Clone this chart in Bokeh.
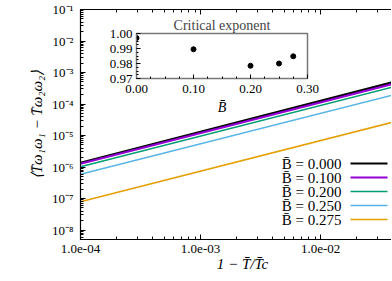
from bokeh.plotting import figure
from bokeh.layouts import column
from bokeh.models import (Range1d, LogAxis, CustomJSTickFormatter, FixedTicker, Label, Arrow)
from bokeh.embed import file_html
from bokeh.resources import INLINE

# ---- data ----
x_ends = [1e-4, 5e-2]
b_labels = ["B̄ = 0.000", "B̄ = 0.100", "B̄ = 0.200", "B̄ = 0.250", "B̄ = 0.275"]
y_b0000 = [1.37e-6, 6.1e-4]
y_b0100 = [1.27e-6, 5.4e-4]
y_b0200 = [1.02e-6, 4.3e-4]
y_b0250 = [5.9e-7, 2.4e-4]
y_b0275 = [7.9e-8, 3.3e-5]
series = [y_b0000, y_b0100, y_b0200, y_b0250, y_b0275]
colors = ["#000000", "#9400d3", "#009e73", "#56b4e9", "#e69f00"]
widths = [2.2, 2.2, 1.5, 1.5, 1.5]

inset_B = [0.0, 0.1, 0.2, 0.25, 0.275]
inset_exp = [0.997, 0.9895, 0.9785, 0.980, 0.9848]

x_ticks = [1e-4, 1e-3, 1e-2]
y_ticks = [1e-8, 1e-7, 1e-6, 1e-5, 1e-4, 1e-3, 1e-2, 1e-1]

FONT = "Liberation Serif"

p = figure(frame_width=324, frame_height=230, x_axis_type="log", y_axis_type="log",
           x_range=Range1d(1e-4, 5e-2), y_range=Range1d(5e-9, 1e-1),
           output_backend="svg", toolbar_location=None,
           min_border_left=67, min_border_right=0, min_border_top=9, min_border_bottom=42)
p.grid.visible = False
p.outline_line_color = "black"
p.outline_line_width = 1.2
p.background_fill_color = "white"

for ys, c, w in zip(series, colors, widths):
    p.line(x_ends, ys, line_color=c, line_width=w)

x_fmt = CustomJSTickFormatter(code="""
const e = Math.round(Math.log10(tick));
const m = tick / Math.pow(10, e);
const s = String(Math.abs(e)).padStart(2, '0');
return m.toFixed(1) + 'e' + (e < 0 ? '-' : '+') + s;
""")
y_fmt = CustomJSTickFormatter(code="""
const sup = {'-':'\u207b','0':'\u2070','1':'\u00b9','2':'\u00b2','3':'\u00b3','4':'\u2074','5':'\u2075','6':'\u2076','7':'\u2077','8':'\u2078','9':'\u2079'};
const e = String(Math.round(Math.log10(tick)));
return '10' + e.split('').map(c => sup[c]).join('');
""")
blank_fmt = CustomJSTickFormatter(code="return '';")

def style_axis(ax):
    ax.major_tick_in = 5
    ax.major_tick_out = 0
    ax.minor_tick_in = 3
    ax.minor_tick_out = 0
    ax.axis_line_color = "black"
    ax.major_tick_line_color = "black"
    ax.minor_tick_line_color = "black"
    ax.major_label_text_font = FONT
    ax.major_label_text_font_size = "13px"
    ax.major_label_text_color = "black"
    ax.axis_label_text_font = FONT
    ax.axis_label_text_font_size = "15px"
    ax.axis_label_text_font_style = "italic"
    ax.axis_label_text_color = "black"

x_minor = [v * k for v in [1e-4, 1e-3, 1e-2] for k in range(2, 10) if v * k <= 5e-2]
y_minor = [v * k for v in [1e-9] + y_ticks for k in range(2, 10) if 5e-9 <= v * k <= 1e-1]

xa = p.xaxis[0]
xa.ticker = FixedTicker(ticks=x_ticks, minor_ticks=x_minor)
xa.formatter = x_fmt
xa.axis_label = "1 − T̄/T̄c"
xa.axis_label_standoff = 0
xa.major_label_standoff = 5
style_axis(xa)

ya = p.yaxis[0]
ya.ticker = FixedTicker(ticks=y_ticks, minor_ticks=y_minor)
ya.formatter = y_fmt
ya.axis_label = "⟨T̄ω₁ω₁ − T̄ω₂ω₂⟩"
ya.axis_label_standoff = 4
ya.major_label_standoff = 7
style_axis(ya)

ra = LogAxis(ticker=FixedTicker(ticks=y_ticks, minor_ticks=y_minor), formatter=blank_fmt)
style_axis(ra)
ra.major_label_text_font_size = "1px"
ra.major_label_standoff = 0
ra.axis_label_standoff = 0
p.add_layout(ra, "right")
ta = LogAxis(ticker=FixedTicker(ticks=x_ticks, minor_ticks=x_minor), formatter=blank_fmt)
style_axis(ta)
ta.major_label_text_font_size = "1px"
ta.major_label_standoff = 0
ta.axis_label_standoff = 0
p.add_layout(ta, "above")

# ---- manual legend (labels left, line samples right) ----
for i, (lab, c, w) in enumerate(zip(b_labels, colors, widths)):
    yy = 76 - i * 14
    p.add_layout(Label(x=261, y=yy, x_units="screen", y_units="screen", text=lab,
                       text_font=FONT, text_font_size="15px", text_align="right",
                       text_baseline="middle", text_color="black"))
    p.add_layout(Arrow(x_start=270, y_start=yy, x_end=307, y_end=yy,
                       start_units="screen", end_units="screen", end=None,
                       line_color=c, line_width=w))

# ---- inset ----
inset = figure(width=266, height=105, x_range=Range1d(0, 0.30), y_range=Range1d(0.97, 1.00),
               output_backend="svg", toolbar_location=None,
               min_border_left=80, min_border_right=15, min_border_top=20, min_border_bottom=40,
               title="Critical exponent",
               styles={"position": "absolute", "left": "56px", "top": "13px"})
inset.background_fill_alpha = 0
inset.border_fill_alpha = 0
inset.grid.visible = False
inset.outline_line_color = "#777777"
inset.outline_line_width = 1.5
inset.title.text_font = FONT
inset.title.text_font_size = "14px"
inset.title.text_font_style = "normal"
inset.title.align = "center"
inset.title.standoff = 1
inset.title.offset = 0
inset.scatter(inset_B, inset_exp, size=5, color="black")
ix = inset.xaxis[0]
ix.ticker = FixedTicker(ticks=[0, 0.1, 0.2, 0.3], minor_ticks=[0.025 * k for k in range(13)])
ix.formatter = CustomJSTickFormatter(code="return tick.toFixed(2);")
ix.axis_label = "B̄"
iy = inset.yaxis[0]
iy.ticker = FixedTicker(ticks=[0.97, 0.98, 0.99, 1.00], minor_ticks=[0.97 + 0.0025 * k for k in range(13)])
iy.formatter = CustomJSTickFormatter(code="return tick.toFixed(2);")
for ax in (ix, iy):
    style_axis(ax)
    ax.axis_line_color = "#777777"
    ax.major_tick_in = 4
    ax.minor_tick_in = 2
    ax.major_label_standoff = 4
ix.major_label_standoff = 6
ix.axis_label_standoff = 4
ix.axis_label_text_font_size = "14px"

layout = column(p, inset, width=392, height=281,
                styles={"position": "relative", "overflow": "hidden"})
open("out.html", "w").write(file_html(layout, INLINE))
